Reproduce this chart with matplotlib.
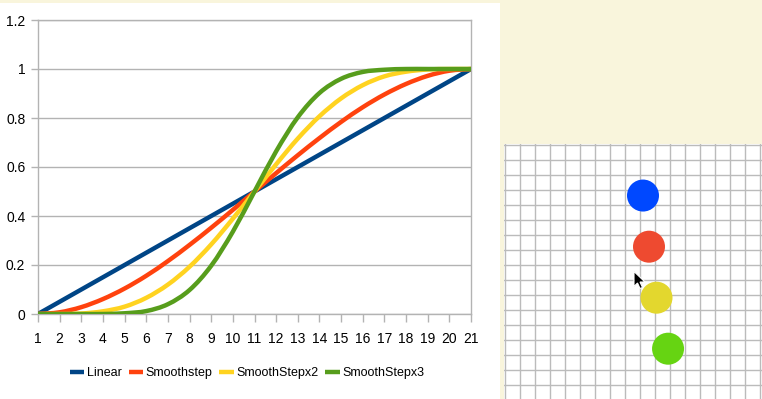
import matplotlib
matplotlib.use("Agg")
import matplotlib.pyplot as plt
from matplotlib.patches import Rectangle, Polygon, PathPatch
from matplotlib.path import Path
from matplotlib.lines import Line2D

# ---------------- data ----------------
categories = [1, 2, 3, 4, 5, 6, 7, 8, 9, 10, 11, 12, 13, 14, 15, 16, 17, 18, 19, 20, 21]
linear = [0.0, 0.05, 0.1, 0.15, 0.2, 0.25, 0.3, 0.35, 0.4, 0.45, 0.5,
          0.55, 0.6, 0.65, 0.7, 0.75, 0.8, 0.85, 0.9, 0.95, 1.0]
smoothstep = [0.0, 0.007, 0.028, 0.061, 0.104, 0.156, 0.216, 0.282, 0.352, 0.425, 0.5,
              0.575, 0.648, 0.718, 0.784, 0.844, 0.896, 0.939, 0.972, 0.993, 1.0]
smoothstep_x2 = [0.0, 0.0, 0.002, 0.011, 0.030, 0.066, 0.120, 0.193, 0.284, 0.389, 0.5,
                 0.611, 0.716, 0.807, 0.880, 0.934, 0.970, 0.989, 0.998, 1.0, 1.0]
smoothstep_x3 = [0.0, 0.0, 0.0, 0.0, 0.003, 0.012, 0.040, 0.098, 0.197, 0.336, 0.5,
                 0.664, 0.803, 0.902, 0.960, 0.988, 0.997, 1.0, 1.0, 1.0, 1.0]
series_names = ["Linear", "Smoothstep", "SmoothStepx2", "SmoothStepx3"]
series_colors = ["#004586", "#ff420e", "#ffd320", "#579d1c"]
y_ticks = [0, 0.2, 0.4, 0.6, 0.8, 1.0, 1.2]
y_tick_labels = ["0", "0.2", "0.4", "0.6", "0.8", "1", "1.2"]

# circles in the grid panel (grid-cell units, origin top-left)
circle_x = [9.2, 9.6, 10.1, 10.87]
circle_y = [3.37, 6.78, 10.18, 13.58]
circle_colors = ["#0048ff", "#ee4a30", "#e3d72e", "#66d412"]

# ---------------- fonts ----------------
plt.rcParams["font.family"] = ["Liberation Sans", "DejaVu Sans"]
fs = 10
legend_fs = 9

W, H = 762, 399
fig = plt.figure(figsize=(W / 100, H / 100), dpi=100, facecolor="#f9f5dc")


def fx(px):
    return px / W


def fy(py):
    return 1 - py / H


# white chart panel
fig.add_artist(Rectangle((0, 0), fx(500), fy(3), transform=fig.transFigure,
                         facecolor="white", edgecolor="none", zorder=0))


def smooth_path(xs, ys):
    """Smooth line through the points (Catmull-Rom drawn as cubic Bezier segments)."""
    n = len(xs)
    verts = [(xs[0], ys[0])]
    codes = [Path.MOVETO]
    for i in range(n - 1):
        x0, y0 = (xs[i - 1], ys[i - 1]) if i > 0 else (xs[i], ys[i])
        x1, y1 = xs[i], ys[i]
        x2, y2 = xs[i + 1], ys[i + 1]
        x3, y3 = (xs[i + 2], ys[i + 2]) if i + 2 < n else (xs[i + 1], ys[i + 1])
        c1 = (x1 + (x2 - x0) / 6, y1 + (y2 - y0) / 6)
        c2 = (x2 - (x3 - x1) / 6, y2 - (y3 - y1) / 6)
        verts += [c1, c2, (x2, y2)]
        codes += [Path.CURVE4] * 3
    return Path(verts, codes)


# ---------------- main chart ----------------
L, R, T, B = 38, 471, 20, 314
ax = fig.add_axes([fx(L), fy(B), fx(R - L), (B - T) / H])
ax.set_facecolor("none")
grid_c = "#b3b3b3"
all_series = [linear, smoothstep, smoothstep_x2, smoothstep_x3]
for vals, name, col in zip(all_series, series_names, series_colors):
    ax.add_patch(PathPatch(smooth_path(categories, vals), fill=False, edgecolor=col,
                           lw=3.2, capstyle="butt", joinstyle="round", zorder=3))
ax.set_xlim(categories[0], categories[-1])
ax.set_ylim(0, 1.2)
ax.set_xticks(categories)
ax.set_xticklabels([str(c) for c in categories])
ax.set_yticks(y_ticks)
ax.set_yticklabels(y_tick_labels)
ax.yaxis.grid(True, color=grid_c, lw=1.0)
ax.set_axisbelow(True)
for s in ["left", "bottom", "right", "top"]:
    ax.spines[s].set_color(grid_c)
    ax.spines[s].set_linewidth(1.0)
ax.tick_params(axis="x", direction="out", length=5.5, width=1.0, color=grid_c,
               labelsize=fs, pad=7.5, labelcolor="black")
ax.tick_params(axis="y", direction="out", length=4.8, width=1.0, color=grid_c,
               labelsize=fs, pad=4.3, labelcolor="black")

handles = [Line2D([], [], color=c, lw=3.2, solid_capstyle="butt") for c in series_colors]
fig.legend(handles, series_names, loc="center", bbox_to_anchor=(fx(247), fy(373)),
           ncol=4, frameon=False, fontsize=legend_fs, handlelength=1.15, handletextpad=0.2,
           columnspacing=0.55, borderpad=0, borderaxespad=0)

# ---------------- grid panel ----------------
cell = 15.0
gx0, gy0 = 505, 145
pad = 1
gax = fig.add_axes([fx(gx0 - pad), 0, fx(W - gx0 + pad), (H - gy0 + pad) / H])
gax.set_facecolor("white")
gax.set_xlim(-pad / cell, (W - gx0) / cell)
gax.set_ylim((H - gy0) / cell, -pad / cell)
gax.set_xticks(range(0, 18))
gax.set_yticks(range(0, 17))
gax.grid(True, color="#bbbbbb", lw=1.0)
gax.tick_params(left=False, bottom=False, labelleft=False, labelbottom=False)
for s in gax.spines.values():
    s.set_visible(False)
gax.set_axisbelow(True)
gax.scatter(circle_x, circle_y, s=(32 * 0.72) ** 2, c=circle_colors, linewidths=0, zorder=3)

# mouse cursor (decoration)
tipx, tipy = (634 - gx0) / cell, (271.5 - gy0) / cell
shape = [(0, 0), (0, 15), (3.5, 11.5), (6, 17), (8.5, 16), (6, 10.5), (11, 10.5)]
pts = [(tipx + a / cell, tipy + b / cell) for a, b in shape]
gax.add_patch(Polygon(pts, closed=True, facecolor="black", edgecolor="white",
                      lw=0.8, zorder=5, joinstyle="miter"))

fig.savefig("out.png", dpi=100, facecolor=fig.get_facecolor())
